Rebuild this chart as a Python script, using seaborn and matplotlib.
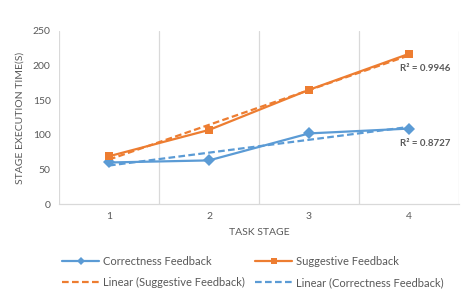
import numpy as np
import pandas as pd
import matplotlib
matplotlib.use("Agg")
import matplotlib.pyplot as plt
import seaborn as sns
from matplotlib.lines import Line2D

stages = [1, 2, 3, 4]
correctness = [60, 63, 102, 109]
suggestive = [69, 107, 165, 217]
r2_suggestive = "R² = 0.9946"
r2_correctness = "R² = 0.8727"

BLUE = "#5B9BD5"
ORANGE = "#ED7D31"
TXT = "#595959"
GRID = "#D9D9D9"

sns.set_theme(style="white")
plt.rcParams["font.family"] = ["Lato", "DejaVu Sans"]

df = pd.DataFrame({
    "stage": stages * 2,
    "time": correctness + suggestive,
    "series": ["Correctness Feedback"] * 4 + ["Suggestive Feedback"] * 4,
})

fig = plt.figure(figsize=(4.74, 2.99), dpi=100)
ax = fig.add_axes([59 / 474, 1 - 204 / 299, 400 / 474, 173 / 299])

# trend lines
x = np.array(stages, dtype=float)
for vals, col in [(suggestive, ORANGE), (correctness, BLUE)]:
    k, b = np.polyfit(x, np.array(vals, dtype=float), 1)
    tdf = pd.DataFrame({"stage": x, "fit": k * x + b})
    sns.lineplot(data=tdf, x="stage", y="fit", ax=ax, color=col, lw=1.6,
                 linestyle=(0, (3, 1.5)), legend=False, zorder=3)

sns.lineplot(data=df, x="stage", y="time", hue="series", style="series",
             palette={"Correctness Feedback": BLUE, "Suggestive Feedback": ORANGE},
             markers={"Correctness Feedback": "D", "Suggestive Feedback": "s"},
             dashes=False, markersize=6, lw=1.6, markeredgewidth=0,
             ax=ax, legend=False, zorder=4)

ax.set_xlim(0.5, 4.5)
ax.set_ylim(0, 250)
ax.set_xticks(stages)
ax.set_yticks(range(0, 251, 50))
for xv in [0.5, 1.5, 2.5, 3.5, 4.5]:
    ax.axvline(xv, color=GRID, lw=0.9, zorder=0)
for s in ["top", "left", "right"]:
    ax.spines[s].set_visible(False)
ax.spines["bottom"].set_color(GRID)
ax.spines["bottom"].set_linewidth(0.9)
ax.tick_params(axis="both", length=0, labelsize=7.5, labelcolor=TXT, pad=6)
ax.set_xlabel("TASK STAGE", fontsize=7.5, color=TXT, labelpad=5)
ax.set_ylabel("STAGE EXECUTION TIME(S)", fontsize=7.5, color=TXT, labelpad=6)

ax.text(4.16, 196, r2_suggestive, fontsize=7, color=TXT, fontweight="bold",
        ha="center", va="center")
ax.text(4.16, 88, r2_correctness, fontsize=7, color=TXT, fontweight="bold",
        ha="center", va="center")

handles = [
    Line2D([], [], color=BLUE, lw=1.6, marker="D", markersize=4, markeredgewidth=0),
    Line2D([], [], color=ORANGE, linestyle=(0, (3, 1.5)), lw=1.6),
    Line2D([], [], color=ORANGE, lw=1.6, marker="s", markersize=4, markeredgewidth=0),
    Line2D([], [], color=BLUE, linestyle=(0, (3, 1.5)), lw=1.6),
]
labels = ["Correctness Feedback", "Linear (Suggestive Feedback)",
          "Suggestive Feedback", "Linear (Correctness Feedback)"]
leg = fig.legend(handles, labels, ncol=2, loc="center", bbox_to_anchor=(0.534, 1 - 272 / 299),
                 frameon=False, fontsize=8, handlelength=3.3, handletextpad=0.4,
                 columnspacing=0.9, labelspacing=0.95, labelcolor=TXT)

fig.savefig("out.png", dpi=100)
